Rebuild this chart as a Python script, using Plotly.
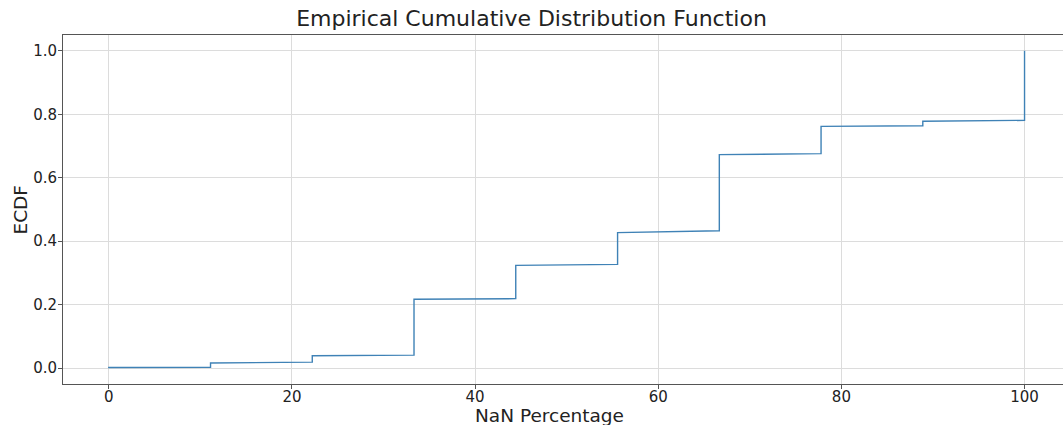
import plotly.graph_objects as go

# NaN percentage step positions (multiples of 100/9) and ECDF levels
step_x = [0.0, 11.11, 22.22, 33.33, 44.44, 55.56, 66.67, 77.78, 88.89, 100.0]
level_start = [0.002, 0.016, 0.039, 0.217, 0.324, 0.427, 0.673, 0.762, 0.778, 1.0]
level_end = [0.003, 0.019, 0.041, 0.219, 0.327, 0.433, 0.676, 0.764, 0.781, 1.0]

x_ticks = [0, 20, 40, 60, 80, 100]
y_ticks = [0.0, 0.2, 0.4, 0.6, 0.8, 1.0]
y_tick_labels = ["0.0", "0.2", "0.4", "0.6", "0.8", "1.0"]

# build the ECDF path: start at 0, each segment runs to the next step, then jumps
xs = [step_x[0]]
ys = [0.0]
for i in range(len(step_x)):
    xs.append(step_x[i])
    ys.append(level_start[i])
    if i + 1 < len(step_x):
        xs.append(step_x[i + 1])
        ys.append(level_end[i])

FONT = "DejaVu Sans"
AX = "#555555"
TXT = "#222222"
W, H = 1063, 425
ML, MR, MT, MB = 63, 0, 35, 41
PW, PH = W - ML - MR, H - MT - MB

fig = go.Figure()
fig.add_trace(go.Scatter(x=xs, y=ys, mode="lines",
                         line=dict(color="#3f82b6", width=1.4),
                         hoverinfo="skip", showlegend=False))

fig.update_layout(
    width=W, height=H,
    margin=dict(l=ML, r=MR, t=MT, b=MB),
    paper_bgcolor="white", plot_bgcolor="white",
    font=dict(family=FONT, color=TXT),
    title=dict(text="Empirical Cumulative Distribution Function",
               x=0.5, xanchor="center", xref="container",
               y=1 - 18 / H, yanchor="middle", yref="container",
               font=dict(family=FONT, size=22, color=TXT)),
    annotations=[
        dict(text="NaN Percentage", xref="paper", yref="paper",
             x=(549 - ML) / PW, y=(PH + MT - 415) / PH, xanchor="center", yanchor="middle",
             borderpad=0, showarrow=False, font=dict(family=FONT, size=18.5, color=TXT)),
        dict(text="ECDF", xref="paper", yref="paper", textangle=-90,
             x=(20 - ML) / PW, y=0.5, xanchor="center", yanchor="middle",
             borderpad=0, showarrow=False, font=dict(family=FONT, size=18.5, color=TXT)),
    ],
)
fig.update_xaxes(
    range=[-5, 104.2], tickvals=x_ticks, ticktext=[str(v) for v in x_ticks],
    showgrid=True, gridcolor="#dcdcdc", gridwidth=1,
    zeroline=False, showline=True, linecolor=AX, linewidth=1, mirror=True,
    ticks="outside", ticklen=4, tickcolor=AX, ticklabelstandoff=-5,
    tickfont=dict(family=FONT, size=15, color=TXT),
)
fig.update_yaxes(
    range=[-0.05, 1.05], tickvals=y_ticks, ticktext=y_tick_labels,
    showgrid=True, gridcolor="#dcdcdc", gridwidth=1,
    zeroline=False, showline=True, linecolor=AX, linewidth=1, mirror=False,
    ticks="outside", ticklen=4, tickcolor=AX, ticklabelstandoff=-2,
    tickfont=dict(family=FONT, size=15, color=TXT),
)

fig.write_html("out.html")
